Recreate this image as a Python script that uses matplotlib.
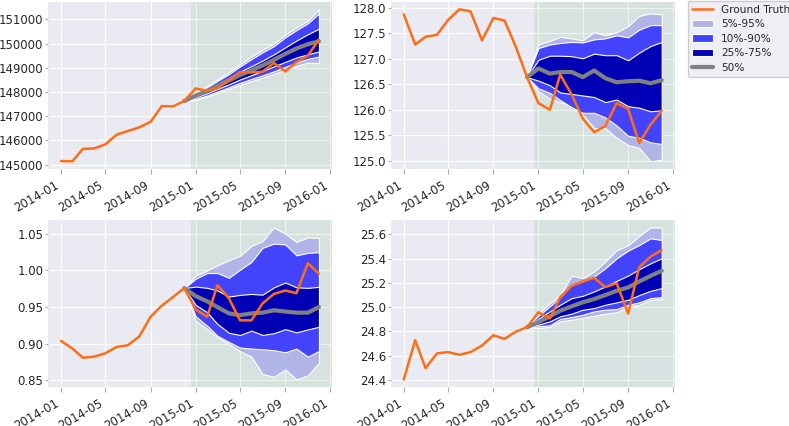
import matplotlib
matplotlib.use('Agg')
import matplotlib.pyplot as plt
import matplotlib.dates as mdates
import numpy as np
import pandas as pd

TRUTH_COLOR = '#ff6d14'
MED_COLOR   = '#808080'
LIGHT_BAND  = '#b0b4e6'
MID_BAND    = '#4343fc'
DARK_BAND   = '#0000b4'

hist_dates = pd.date_range('2014-01-01', '2015-12-01', freq='MS')
fc_dates = pd.date_range('2014-12-01', '2015-12-01', freq='MS')

# panel 1 (top left)
truth_1 = [145150, 145140, 145650, 145670, 145840, 146240, 146390, 146540, 146770, 147420, 147410, 147630,
           148150, 148050, 148160, 148480, 148830, 148810, 148840, 149200, 148850, 149240, 149510, 150170]
p50_1 = [147630, 147850, 148050, 148250, 148480, 148700, 148900, 149100, 149330, 149580, 149800, 149980, 150100]
p95_1 = [147630, 147950, 148250, 148520, 148820, 149150, 149470, 149750, 150000, 150380, 150680, 150950, 151420]
p90_1 = [147630, 147920, 148200, 148460, 148740, 149060, 149360, 149640, 149900, 150260, 150560, 150840, 151250]
p75_1 = [147630, 147880, 148110, 148340, 148580, 148840, 149070, 149300, 149560, 149850, 150130, 150390, 150620]
p25_1 = [147630, 147780, 147950, 148130, 148320, 148520, 148700, 148870, 149060, 149250, 149430, 149560, 149680]
p10_1 = [147630, 147720, 147860, 148020, 148200, 148380, 148540, 148690, 148860, 149040, 149220, 149370, 149470]
p5_1  = [147630, 147680, 147810, 147960, 148130, 148300, 148450, 148590, 148750, 148920, 149080, 149220, 149200]

# panel 2 (top right)
truth_2 = [127.87, 127.28, 127.43, 127.47, 127.76, 127.97, 127.93, 127.36, 127.80, 127.75, 127.23, 126.64,
           126.13, 126.00, 126.69, 126.30, 125.83, 125.56, 125.68, 126.13, 126.02, 125.35, 125.71, 125.98]
p50_2 = [126.64, 126.81, 126.71, 126.74, 126.74, 126.64, 126.77, 126.62, 126.54, 126.56, 126.57, 126.52, 126.58]
p95_2 = [126.64, 127.28, 127.35, 127.43, 127.40, 127.36, 127.52, 127.46, 127.52, 127.64, 127.84, 127.89, 127.87]
p90_2 = [126.64, 127.21, 127.28, 127.31, 127.33, 127.32, 127.38, 127.40, 127.46, 127.42, 127.57, 127.66, 127.66]
p75_2 = [126.64, 126.98, 127.06, 127.06, 127.05, 127.01, 127.10, 127.07, 127.07, 126.97, 127.12, 127.25, 127.33]
p25_2 = [126.64, 126.57, 126.48, 126.34, 126.31, 126.28, 126.25, 126.15, 126.20, 126.07, 126.04, 125.97, 125.99]
p10_2 = [126.64, 126.42, 126.33, 126.19, 126.05, 125.94, 125.94, 125.85, 125.69, 125.49, 125.45, 125.36, 125.33]
p5_2  = [126.64, 126.36, 126.22, 126.15, 126.08, 125.90, 125.64, 125.64, 125.45, 125.31, 125.25, 124.99, 125.02]

# panel 3 (bottom left)
truth_3 = [0.904, 0.8935, 0.881, 0.8825, 0.887, 0.8958, 0.898, 0.910, 0.937, 0.952, 0.964, 0.976,
           0.9466, 0.937, 0.980, 0.962, 0.932, 0.932, 0.955, 0.968, 0.9727, 0.969, 1.010, 0.9955]
p50_3 = [0.976, 0.965, 0.958, 0.950, 0.9415, 0.939, 0.9415, 0.9425, 0.9457, 0.944, 0.9425, 0.9425, 0.950]
p95_3 = [0.976, 0.993, 1.000, 1.007, 1.014, 1.020, 1.0335, 1.040, 1.0587, 1.050, 1.039, 1.045, 1.0445]
p90_3 = [0.976, 0.9887, 0.9965, 0.9965, 0.990, 1.001, 1.0116, 1.0308, 1.0367, 1.0354, 1.0207, 1.024, 1.025]
p75_3 = [0.976, 0.978, 0.9763, 0.9727, 0.9644, 0.9667, 0.968, 0.967, 0.977, 0.9836, 0.977, 0.9763, 0.9777]
p25_3 = [0.976, 0.953, 0.943, 0.927, 0.915, 0.912, 0.918, 0.912, 0.9145, 0.920, 0.9155, 0.9196, 0.9232]
p10_3 = [0.976, 0.9374, 0.9246, 0.911, 0.9026, 0.8949, 0.8935, 0.8926, 0.8912, 0.8884, 0.8935, 0.8825, 0.8903]
p5_3  = [0.976, 0.9315, 0.920, 0.9086, 0.900, 0.890, 0.8825, 0.859, 0.855, 0.865, 0.8514, 0.857, 0.8743]

# panel 4 (bottom right)
truth_4 = [24.405, 24.728, 24.498, 24.619, 24.630, 24.608, 24.630, 24.684, 24.769, 24.739, 24.799, 24.835,
           24.958, 24.908, 25.083, 25.176, 25.212, 25.242, 25.165, 25.198, 24.947, 25.329, 25.417, 25.471]
p50_4 = [24.835, 24.876, 24.925, 24.971, 25.007, 25.040, 25.067, 25.100, 25.135, 25.163, 25.212, 25.258, 25.300]
p95_4 = [24.835, 24.947, 25.034, 25.100, 25.260, 25.240, 25.294, 25.376, 25.470, 25.510, 25.586, 25.657, 25.655]
p90_4 = [24.835, 24.930, 25.007, 25.083, 25.184, 25.212, 25.253, 25.320, 25.403, 25.466, 25.512, 25.567, 25.554]
p75_4 = [24.835, 24.903, 24.966, 25.020, 25.075, 25.094, 25.130, 25.171, 25.217, 25.261, 25.313, 25.362, 25.403]
p25_4 = [24.835, 24.856, 24.884, 24.925, 24.947, 24.979, 24.993, 25.020, 25.040, 25.061, 25.100, 25.135, 25.157]
p10_4 = [24.835, 24.843, 24.851, 24.903, 24.919, 24.938, 24.966, 24.979, 24.985, 25.020, 25.040, 25.075, 25.083]
p5_4  = [24.835, 24.829, 24.837, 24.884, 24.897, 24.911, 24.930, 24.947, 24.958, 25.007, 25.020, 25.061, 25.067]

panels = [
    (truth_1, p5_1, p10_1, p25_1, p50_1, p75_1, p90_1, p95_1),
    (truth_2, p5_2, p10_2, p25_2, p50_2, p75_2, p90_2, p95_2),
    (truth_3, p5_3, p10_3, p25_3, p50_3, p75_3, p90_3, p95_3),
    (truth_4, p5_4, p10_4, p25_4, p50_4, p75_4, p90_4, p95_4),
]

plt.style.use('seaborn-v0_8-darkgrid')
plt.rcParams['font.family'] = ['DejaVu Sans']
plt.rcParams['xtick.major.size'] = 3.5
plt.rcParams['ytick.major.size'] = 2.5
plt.rcParams['ytick.major.pad'] = 1.0
plt.rcParams['xtick.major.width'] = 0.8
plt.rcParams['ytick.major.width'] = 0.8

fig, axes = plt.subplots(2, 2, figsize=(7.89, 4.26), dpi=100)
fig.subplots_adjust(left=0.061, right=0.855, top=0.996, bottom=0.0915,
                    wspace=0.208, hspace=0.305)

for ax, (truth, p5, p10, p25, p50, p75, p90, p95) in zip(axes.flat, panels):
    ax.plot(hist_dates, truth, color=TRUTH_COLOR, lw=1.8, zorder=5, label='Ground Truth')
    ax.fill_between(fc_dates, p5, p95, facecolor=LIGHT_BAND, edgecolor='white', lw=0.8,
                    zorder=2, label='5%-95%')
    ax.fill_between(fc_dates, p10, p90, facecolor=MID_BAND, edgecolor='white', lw=0.8,
                    zorder=3, label='10%-90%')
    ax.fill_between(fc_dates, p25, p75, facecolor=DARK_BAND, edgecolor='white', lw=0.8,
                    zorder=3.5, label='25%-75%')
    ax.plot(fc_dates, p50, color=MED_COLOR, lw=3, zorder=4, label='50%')
    x0, x1 = ax.get_xlim()
    ax.axvspan(pd.Timestamp('2014-12-19'), pd.Timestamp('2016-02-01'),
               color='green', alpha=0.08, lw=0, zorder=1)
    ax.set_xlim(x0, x1)
    ax.xaxis.set_major_locator(mdates.MonthLocator(bymonth=[1, 5, 9]))
    ax.xaxis.set_major_formatter(mdates.DateFormatter('%Y-%m'))
    ax.tick_params(labelsize=8.5, color='#aaaaaa', labelcolor='#262626')
    for lbl in ax.get_xticklabels():
        lbl.set_rotation(30)
        lbl.set_ha('right')

axes[0, 0].yaxis.set_major_formatter(matplotlib.ticker.FormatStrFormatter('%d'))

axes[0, 1].legend(loc='upper left', bbox_to_anchor=(1.046, 1.006), borderaxespad=0,
                  fontsize=7.6, labelspacing=0.42, handlelength=2.0, handletextpad=0.75,
                  frameon=True, facecolor='#eeeef4', edgecolor='#cccccc', framealpha=1)

fig.savefig('out.png', dpi=100)
